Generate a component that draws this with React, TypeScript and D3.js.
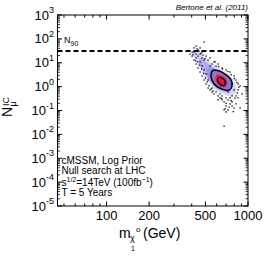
import React from 'react';
import * as d3 from 'd3';

// axis setup
const xDomain = [45, 1000];
const yDomain = [1e-5, 1e3];
const xTickLabels = [100, 200, 500, 1000];
const yExponents = [-5, -4, -3, -2, -1, 0, 1, 2, 3];
const n90 = 31;

// posterior samples: [m_chi (GeV), N_mu]
const samples = [
  [415, 42], [429, 50], [443, 34], [402, 28], [458, 42], [473, 28], [429, 23], [489, 74],
  [402, 19], [415, 13], [429, 8.9], [443, 6.1], [458, 4.1], [473, 2.8], [489, 1.9], [505, 1.3],
  [522, 0.88], [539, 0.73], [557, 0.6], [429, 16], [458, 10.8], [473, 7.3], [489, 5.0], [505, 3.4],
  [505, 19], [539, 16], [575, 10.8], [614, 8.9], [655, 6.1], [699, 5.0], [746, 4.1], [796, 2.8],
  [822, 1.9], [850, 1.3], [850, 0.73], [575, 0.5], [614, 0.41], [634, 0.34], [655, 0.28], [677, 0.23],
  [699, 0.34], [722, 0.28], [746, 0.19], [771, 0.156], [796, 0.128], [822, 0.19], [878, 0.128], [699, 0.156],
  [677, 0.106], [722, 0.106], [746, 0.34], [771, 0.41], [634, 0.5], [677, 0.022], [522, 13], [557, 8.9],
  [594, 7.3], [796, 0.73], [822, 0.41], [594, 0.6], [443, 19], [489, 13], [458, 23], [539, 7.3],
  [771, 1.3], [722, 0.6], [655, 0.41], [614, 0.28], [850, 0.34], [878, 1.07], [415, 28], [389, 23],
  [473, 16], [557, 0.88], [522, 1.9], [699, 0.087], [771, 0.23], [907, 0.5],
  [436, 38], [450, 31], [465, 25], [481, 21], [497, 15], [420, 31], [408, 22], [425, 12],
  [440, 11], [455, 8], [470, 5.5], [485, 3.6], [500, 2.3], [515, 1.6], [530, 1.1], [548, 0.8],
  [565, 0.66], [585, 11], [620, 7], [660, 5.5], [720, 4.3], [760, 3.2], [800, 2.2], [835, 1.5],
  [860, 0.95], [840, 0.55], [808, 0.33], [760, 0.26], [700, 0.2], [650, 0.32], [690, 0.12], [735, 0.14],
  [785, 0.09],
];

// credible region outlines
const outerRegion = [
  [415, 34], [450, 28], [489, 17.4], [539, 10.8], [604, 6.7], [688, 4.1], [771, 2.3], [822, 1.18],
  [822, 0.6], [783, 0.41], [710, 0.41], [645, 0.55], [585, 0.73], [539, 1.3], [497, 2.5], [465, 5.0],
  [436, 9.8], [415, 17.4], [402, 25],
];
const midRegion = [
  [458, 16], [513, 9.8], [575, 6.1], [655, 3.7], [734, 2.1], [771, 1.07], [746, 0.6], [677, 0.6],
  [604, 0.88], [548, 1.57], [505, 3.1], [473, 6.1], [450, 10.8],
];
const innerRegion = [
  [522, 6.1], [594, 5.0], [688, 3.1], [758, 1.7], [758, 0.88], [688, 0.66], [604, 0.88], [548, 1.57],
  [513, 3.1],
];
const contour68 = [
  [565, 4.8], [620, 4.6], [695, 3.2], [760, 1.9], [770, 1.0], [730, 0.7], [660, 0.78], [592, 1.1],
  [556, 1.9], [548, 3.3],
];
const coreRegion = [
  [600, 3.2], [655, 2.9], [705, 2.0], [715, 1.2], [685, 0.92], [628, 1.1], [590, 1.7],
];
const contourCore = [
  [618, 2.4], [664, 2.2], [692, 1.6], [674, 1.12], [628, 1.32], [608, 1.85],
];

const infoLines = ['cMSSM, Log Prior', 'Null search at LHC'];

const W = 266;
const H = 257;
const left = 57.5;
const right = 248;
const top = 15;
const bottom = 206;
const font = '"Liberation Sans", Arial, Helvetica, sans-serif';

export default function App() {
  const x = d3.scaleLog().domain(xDomain).range([left, right]);
  const y = d3.scaleLog().domain(yDomain).range([bottom, top]);

  const area = d3
    .line<number[]>()
    .x((d) => x(d[0]))
    .y((d) => y(d[1]))
    .curve(d3.curveCatmullRomClosed.alpha(0.5));

  // minor/major ticks
  const xMinor: number[] = [];
  [10, 100].forEach((dec) => {
    for (let k = 1; k <= 9; k++) {
      const v = dec * k;
      if (v >= xDomain[0] && v <= xDomain[1]) xMinor.push(v);
    }
  });
  xMinor.push(1000);
  const yMinor: number[] = [];
  for (let e = -5; e < 3; e++) {
    for (let k = 2; k <= 9; k++) yMinor.push(k * Math.pow(10, e));
  }

  return (
    <svg
      width={W}
      height={H}
      style={{ position: 'absolute', left: 0, top: 0, background: '#fff' }}
      fontFamily={font}
    >
      <rect width={W} height={H} fill="#fff" />

      {/* density regions */}
      <path d={area(outerRegion) || ''} fill="#d9d3f6" />
      <path d={area(midRegion) || ''} fill="#b6abef" />
      <path d={area(innerRegion) || ''} fill="#9d8fe6" />
      <path d={area(contour68) || ''} fill="#8a74da" stroke="#000" strokeWidth={1.5} />
      <path d={area(coreRegion) || ''} fill="#e22252" />
      <path d={area(contourCore) || ''} fill="#d41c4c" stroke="#000" strokeWidth={1.2} />

      {/* samples */}
      {samples.map((d, i) => (
        <rect key={i} x={x(d[0]) - 0.6} y={y(d[1]) - 0.6} width={1.3} height={1.3} fill="#000" />
      ))}

      {/* N90 line */}
      <line
        x1={left}
        x2={right}
        y1={y(n90)}
        y2={y(n90)}
        stroke="#000"
        strokeWidth={2}
        strokeDasharray="5,3"
      />
      <text x={64} y={43} fontSize={9}>
        N
        <tspan fontSize={7} dy={3}>
          90
        </tspan>
      </text>

      {/* frame */}
      <rect x={left} y={top} width={right - left} height={bottom - top} fill="none" stroke="#000" strokeWidth={1} />

      {/* x ticks */}
      {xMinor.map((v) => {
        const major = xTickLabels.includes(v);
        const len = major ? 4.5 : 2.5;
        return (
          <g key={'xt' + v}>
            <line x1={x(v)} x2={x(v)} y1={bottom} y2={bottom - len} stroke="#000" />
            <line x1={x(v)} x2={x(v)} y1={top} y2={top + len} stroke="#000" />
          </g>
        );
      })}
      {/* y ticks */}
      {yExponents.map((e) => (
        <g key={'yt' + e}>
          <line x1={left} x2={left + 4.5} y1={y(Math.pow(10, e))} y2={y(Math.pow(10, e))} stroke="#000" />
          <line x1={right} x2={right - 4.5} y1={y(Math.pow(10, e))} y2={y(Math.pow(10, e))} stroke="#000" />
        </g>
      ))}
      {yMinor.map((v, i) => (
        <g key={'ym' + i}>
          <line x1={left} x2={left + 2.5} y1={y(v)} y2={y(v)} stroke="#000" strokeWidth={0.8} />
          <line x1={right} x2={right - 2.5} y1={y(v)} y2={y(v)} stroke="#000" strokeWidth={0.8} />
        </g>
      ))}

      {/* x tick labels */}
      {xTickLabels.map((v) => (
        <text key={'xl' + v} x={x(v)} y={220} fontSize={13} textAnchor="middle">
          {v}
        </text>
      ))}
      {/* y tick labels */}
      {yExponents.map((e) => (
        <text key={'yl' + e} x={54} y={y(Math.pow(10, e)) + 4.5} fontSize={13} textAnchor="end">
          10
          <tspan fontSize={9} dy={-6.5}>
            {e}
          </tspan>
        </text>
      ))}

      {/* axis titles */}
      <g>
        <text x={119} y={238} fontSize={14}>m</text>
        <text x={130} y={241} fontSize={9}>χ</text>
        <text x={136} y={232} fontSize={8}>o</text>
        <text x={131} y={251} fontSize={7}>1</text>
        <text x={143} y={238} fontSize={14}>(GeV)</text>
      </g>
      <g transform="translate(12,117) rotate(-90)">
        <text x={0} y={0} fontSize={14}>N</text>
        <text x={10.5} y={4} fontSize={9}>μ</text>
        <text x={11} y={-3} fontSize={9}>IC</text>
      </g>

      {/* annotation */}
      <g fontSize={10}>
        <text x={61.5} y={164}>{infoLines[0]}</text>
        <text x={61.5} y={174}>{infoLines[1]}</text>
        <text x={61.5} y={186}>
          s<tspan fontSize={7} dy={-4}>1/2</tspan>
          <tspan dy={4}>=14TeV (100fb</tspan>
          <tspan fontSize={7} dy={-4}>−1</tspan>
          <tspan dy={4}>)</tspan>
        </text>
        <text x={61.5} y={196}>T = 5 Years</text>
      </g>
      <text x={248} y={10} fontSize={8} fontStyle="italic" textAnchor="end">
        Bertone et al. (2011)
      </text>
    </svg>
  );
}
